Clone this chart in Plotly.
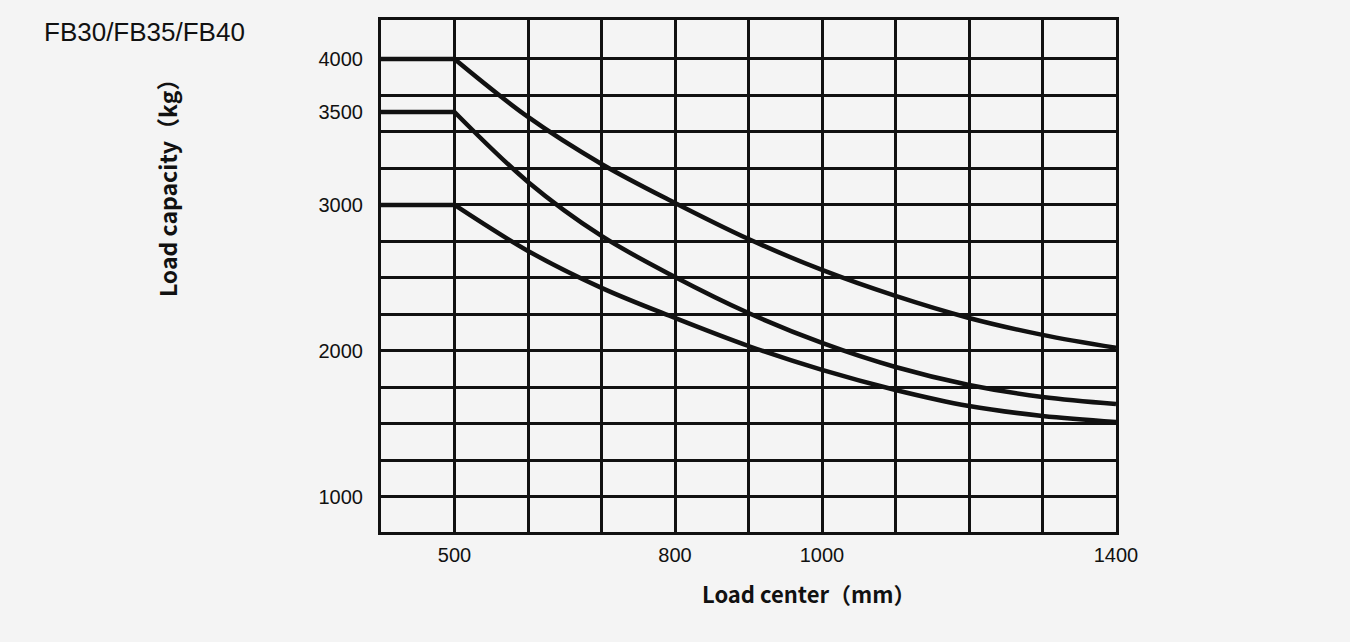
import plotly.graph_objects as go

# Data
load_center = [400, 500, 600, 700, 800, 900, 1000, 1100, 1200, 1300, 1400]
fb40 = [4000, 4000, 3603, 3281, 3014, 2767, 2555, 2377, 2226, 2110, 2021]
fb35 = [3637, 3637, 3158, 2788, 2507, 2260, 2055, 1890, 1767, 1685, 1637]
fb30 = [3000, 3000, 2685, 2432, 2226, 2034, 1870, 1733, 1623, 1555, 1514]

y_tick_vals = [1000, 2000, 3000, 3637, 4000]
y_tick_text = ["1000", "2000", "3000", "3500", "4000"]
y_grid_vals = [1000, 1250, 1500, 1750, 2000, 2250, 2500, 2750, 3000, 3250, 3500, 3750, 4000]
x_tick_vals = [500, 800, 1000, 1400]
x_tick_text = ["500", "800", "1000", "1400"]
x_grid_vals = [500, 600, 700, 800, 900, 1000, 1100, 1200, 1300]

BG = "#f4f4f4"
INK = "#111111"

fig = go.Figure()
for series in (fb40, fb35, fb30):
    # flat segment
    fig.add_trace(go.Scatter(x=load_center[:2], y=series[:2], mode="lines",
                             line=dict(color=INK, width=4.5), showlegend=False,
                             hoverinfo="skip"))
    # curved segment
    fig.add_trace(go.Scatter(x=load_center[1:], y=series[1:], mode="lines",
                             line=dict(color=INK, width=4.5, shape="spline", smoothing=1.0),
                             showlegend=False))

fig.update_layout(
    width=1350, height=642,
    margin=dict(l=381, r=234, t=20, b=110),
    paper_bgcolor=BG, plot_bgcolor=BG,
    font=dict(family="Liberation Sans, Arial, sans-serif", color=INK, size=20),
    xaxis=dict(
        range=[400, 1400], tickmode="array", tickvals=x_tick_vals, ticktext=x_tick_text,
        showgrid=False, zeroline=False, showline=True, mirror=True,
        linecolor=INK, linewidth=3, ticks="", ticklabelstandoff=3,
        tickfont=dict(size=20),
        minor=dict(tickmode="array", tickvals=x_grid_vals, showgrid=True,
                   gridcolor=INK, gridwidth=2.6, ticks=""),
    ),
    yaxis=dict(
        range=[760, 4267], tickmode="array", tickvals=y_tick_vals, ticktext=y_tick_text,
        showgrid=False, zeroline=False, showline=True, mirror=True,
        linecolor=INK, linewidth=3, ticks="", ticklabelstandoff=11,
        tickfont=dict(size=20),
        minor=dict(tickmode="array", tickvals=y_grid_vals, showgrid=True,
                   gridcolor=INK, gridwidth=2.6, ticks=""),
    ),
    annotations=[
        dict(text="FB30/FB35/FB40", xref="paper", yref="paper", x=-0.4612, y=0.9766,
             xanchor="left", yanchor="middle", showarrow=False,
             font=dict(family="Liberation Sans, Arial, sans-serif", size=26, color=INK)),
        dict(text="Load capacity（kg）", xref="paper", yref="paper", x=-0.291, y=0.6836,
             xanchor="center", yanchor="middle", textangle=-90, showarrow=False,
             font=dict(family="Noto Sans CJK SC", size=23, color=INK, weight="bold")),
        dict(text="Load center（mm）", xref="paper", yref="paper", x=0.582, y=-0.119,
             xanchor="center", yanchor="middle", showarrow=False,
             font=dict(family="Noto Sans CJK SC", size=22, color=INK, weight="bold")),
    ],
)

fig.write_html("out.html")
